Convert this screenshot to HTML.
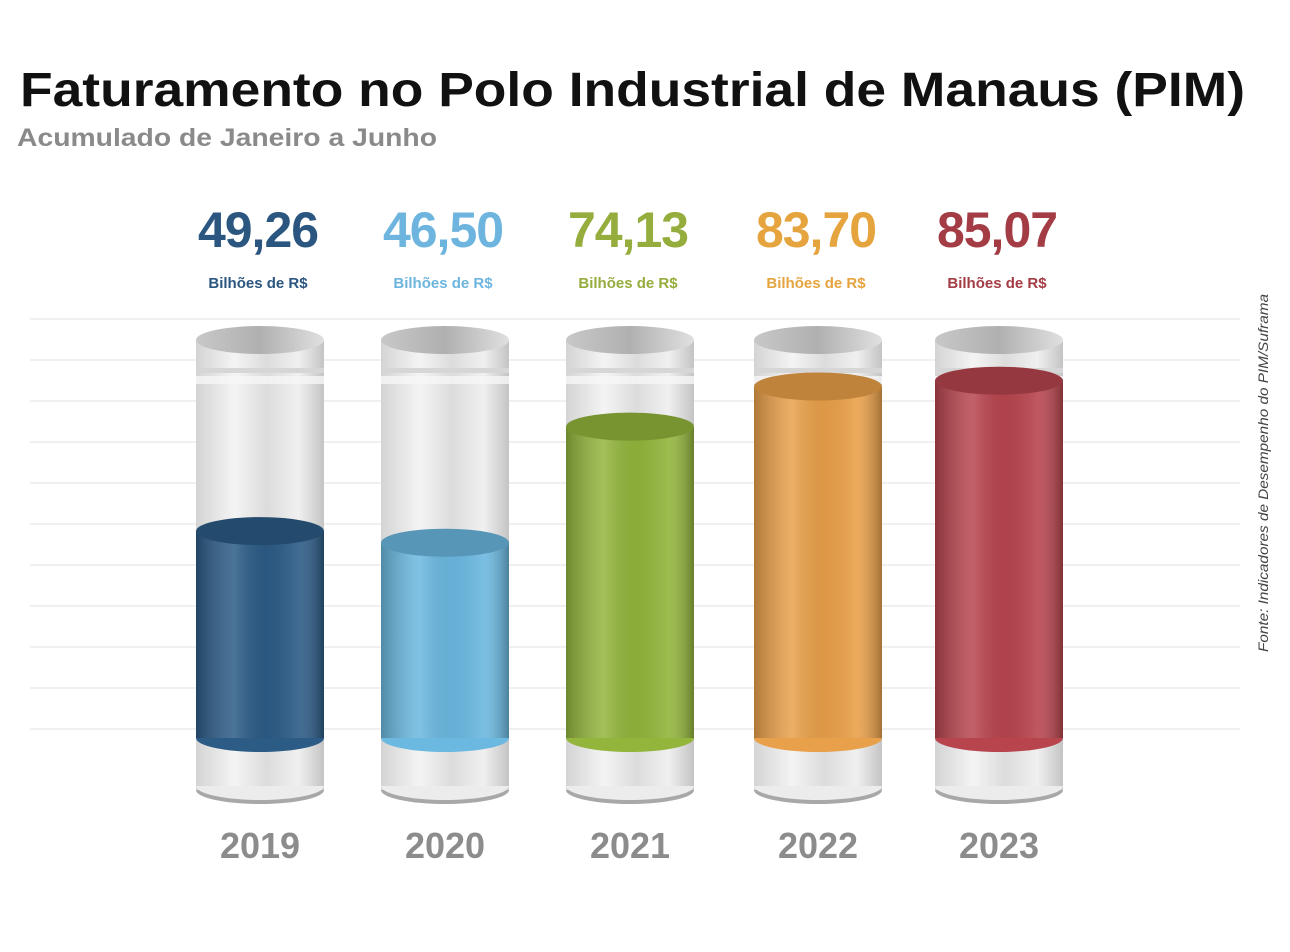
<!DOCTYPE html>
<html><head><meta charset="utf-8">
<style>
html,body{margin:0;padding:0;background:#fff;}
body{width:1290px;height:947px;overflow:hidden;font-family:"Liberation Sans",sans-serif;}
</style></head>
<body>
<svg id="chart" width="1290" height="947" viewBox="0 0 1290 947" xmlns="http://www.w3.org/2000/svg">
<defs>
<linearGradient id="glass" x1="0" x2="1" y1="0" y2="0">
<stop offset="0" stop-color="#d4d4d4"/><stop offset="0.3" stop-color="#f4f4f4"/><stop offset="0.55" stop-color="#dcdcdc"/><stop offset="0.8" stop-color="#f0f0f0"/><stop offset="1" stop-color="#c4c4c4"/>
</linearGradient>
<linearGradient id="rim" x1="0" x2="1"><stop offset="0" stop-color="#c8c8c8"/><stop offset="0.5" stop-color="#b0b0b0"/><stop offset="1" stop-color="#e0e0e0"/></linearGradient>
<linearGradient id="shade" x1="0" x2="1">
<stop offset="0" stop-color="#000" stop-opacity="0.25"/><stop offset="0.3" stop-color="#fff" stop-opacity="0.15"/><stop offset="0.55" stop-color="#000" stop-opacity="0.05"/><stop offset="0.8" stop-color="#fff" stop-opacity="0.1"/><stop offset="1" stop-color="#000" stop-opacity="0.3"/>
</linearGradient>
</defs>
<rect width="1290" height="947" fill="#fff"/>
<g id="grid"></g>
<text x="20" y="106" font-size="48" font-weight="bold" fill="#111" textLength="1225" lengthAdjust="spacingAndGlyphs">Faturamento no Polo Industrial de Manaus (PIM)</text>
<text x="17" y="146" font-size="25" font-weight="bold" fill="#8a8a8a" textLength="420" lengthAdjust="spacingAndGlyphs">Acumulado de Janeiro a Junho</text>
<text transform="translate(1268,652) rotate(-90)" font-size="14" font-style="italic" fill="#444" textLength="358" lengthAdjust="spacingAndGlyphs">Fonte: Indicadores de Desempenho do PIM/Suframa</text>
<g id="bars"></g>
</svg>
<script>
const years = ["2019","2020","2021","2022","2023"];
const values = [49.26, 46.50, 74.13, 83.70, 85.07];
const labels = ["49,26","46,50","74,13","83,70","85,07"];
const colors = ["#2c5b86","#6bb8e0","#93b53c","#e9a04a","#b8454e"];
const textColors = ["#2b5680","#6db5de","#94ad3c","#e5a43e","#a33c44"];

const NS="http://www.w3.org/2000/svg";
function mk(tag, attrs, parent){const e=document.createElementNS(NS,tag);for(const k in attrs)e.setAttribute(k,attrs[k]);parent.appendChild(e);return e;}
const gridG=document.getElementById('grid');
for(let i=0;i<11;i++){
  const l=mk('line',{x1:30,x2:1240,y1:319+i*41,y2:319+i*41,stroke:'#ececec','stroke-width':1.5},gridG);
  
  
}
const baseY=738, kScale=4.2, W=128, topY=340, ry=14;
const slotX=[196,381,566,754,935];
const xs = i => slotX[i];
function yScale(v){return baseY - v*kScale;}
const barsG=document.getElementById('bars');
years.forEach((yr,i)=>{
  const x=xs(i), cx=x+W/2;
  const g=mk('g',{},barsG);
  
  
  mk('ellipse',{cx:cx,cy:790,rx:W/2,ry:ry,fill:'#a8a8a8'},g);
  mk('rect',{x:x,y:topY,width:W,height:450,fill:'url(#glass)'},g);
  mk('ellipse',{cx:cx,cy:786,rx:W/2,ry:ry,fill:'#ececec'},g);
  mk('rect',{x:x,y:topY,width:W,height:446,fill:'url(#glass)'},g);
  mk('rect',{x:x,y:368,width:W,height:5,fill:'#d6d6d6'},g);
  mk('rect',{x:x,y:376,width:W,height:8,fill:'#f6f6f6',opacity:0.8},g);
  const ty=yScale(values[i]);
  const liq=mk('rect',{x:x,y:ty,width:W,height:baseY-ty,fill:colors[i]},g);
  
  
  mk('ellipse',{cx:cx,cy:baseY,rx:W/2,ry:ry,fill:colors[i]},g);
  mk('rect',{x:x,y:ty,width:W,height:baseY-ty,fill:'url(#shade)'},g);
  mk('ellipse',{cx:cx,cy:ty,rx:W/2,ry:ry,fill:colors[i]},g);
  mk('ellipse',{cx:cx,cy:ty,rx:W/2,ry:ry,fill:'#000',opacity:0.18},g);
  mk('ellipse',{cx:cx,cy:topY,rx:W/2,ry:ry,fill:'url(#rim)'},g);
  const t=mk('text',{x:cx-2,y:247,'text-anchor':'middle','font-size':50,'font-weight':'bold',fill:textColors[i],'letter-spacing':-1},g);
  t.textContent=labels[i];
  
  
  const u=mk('text',{x:cx-2,y:288,'text-anchor':'middle','font-size':15,'font-weight':'bold',fill:textColors[i]},g);
  u.textContent='Bilhões de R$';
  
  
  const yl=mk('text',{x:cx,y:858,'text-anchor':'middle','font-size':36,'font-weight':'bold',fill:'#8c8c8c'},g);
  yl.textContent=yr;
  
  
});
</script>
</body></html>
